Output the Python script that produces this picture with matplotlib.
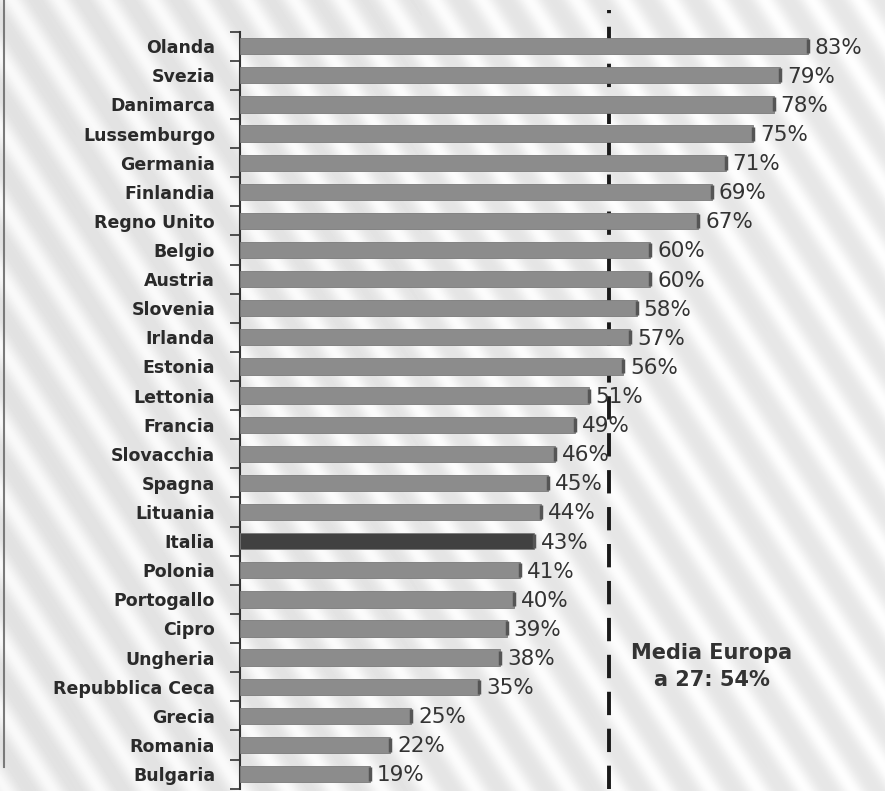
"""
Quota percentuale per paese - barre orizzontali con media europea
"""

import matplotlib.pyplot as plt
import numpy as np
from matplotlib.lines import Line2D

#---------------------------------------------------------------------------------------------------
# Data
#---------------------------------------------------------------------------------------------------

countries = ['Olanda', 'Svezia', 'Danimarca', 'Lussemburgo', 'Germania', 'Finlandia', 'Regno Unito',
             'Belgio', 'Austria', 'Slovenia', 'Irlanda', 'Estonia', 'Lettonia', 'Francia',
             'Slovacchia', 'Spagna', 'Lituania', 'Italia', 'Polonia', 'Portogallo', 'Cipro',
             'Ungheria', 'Repubblica Ceca', 'Grecia', 'Romania', 'Bulgaria']
values = [83, 79, 78, 75, 71, 69, 67, 60, 60, 58, 57, 56, 51, 49, 46, 45, 44, 43, 41, 40, 39,
          38, 35, 25, 22, 19]
highlight = 'Italia'
eu_mean = 54
eu_label = 'Media Europa\na 27: 54%'

#---------------------------------------------------------------------------------------------------
# Plot
#---------------------------------------------------------------------------------------------------

fig = plt.figure(figsize=(8.85, 7.91), dpi=100)

# soft striped grey background
bg = fig.add_axes([0, 0, 1, 1], zorder=0)
yy, xx = np.mgrid[0:791, 0:885]
stripes = 0.5 + 0.5*np.sin(2*np.pi*(xx*0.85 - yy*0.55)/40.)
shade = 0.885 + 0.09*stripes**1.5 + 0.02*(xx/885.)
bg.imshow(shade, cmap='gray', vmin=0, vmax=1, aspect='auto', interpolation='bilinear')
bg.axis('off')
fig.add_artist(Line2D([0.004, 0.004], [0.03, 1.0], color='#7a7a7a', lw=1.5))

ax = fig.add_axes([0.2712, 0.003, 0.7288, 0.957], zorder=1)
ax.patch.set_alpha(0)

ypos = np.arange(len(countries))
colors = ['#414141' if c == highlight else '#8c8c8c' for c in countries]
ax.barh(ypos, values, height=0.56, color=colors, edgecolor='#7a7a7a', lw=0.6, zorder=3)
# darker end caps on the bars
ax.plot(values, ypos, ls='none', marker='|', ms=10, mew=2.5, color='#555555', zorder=4)

for y, v in zip(ypos, values):
    ax.annotate('%d%%' % v, (v, y), xytext=(5, -1), textcoords='offset points',
                ha='left', va='center', fontsize=15.5, color='#333333', zorder=5)

ax.axvline(eu_mean, ymin=0, ymax=1.028, color='#1a1a1a', lw=2.8, ls=(0, (6, 3.5)),
           clip_on=False, zorder=2)
ax.text(69, 21.3, eu_label, ha='center', va='center', fontsize=15, fontweight='bold',
        color='#333333', linespacing=1.45)

ax.set_xlim(0, 94.3)
ax.set_ylim(len(countries) - 0.5, -0.5)

ax.set_yticks(np.arange(len(countries) + 1) - 0.5)
ax.set_yticklabels([])
ax.set_yticks(ypos, labels=countries, minor=True)
ax.tick_params(axis='y', which='major', length=7, width=1.2, color='#333333')
ax.tick_params(axis='y', which='minor', length=0, pad=18)
for lab in ax.get_yticklabels(minor=True):
    lab.set_fontsize(12.5)
    lab.set_fontweight('bold')
    lab.set_color('#2a2a2a')
ax.set_xticks([])
for s in ['top', 'right', 'bottom']:
    ax.spines[s].set_visible(False)
ax.spines['left'].set_color('#333333')
ax.spines['left'].set_linewidth(1.5)

plt.savefig('out.png', dpi=100)
plt.close()
